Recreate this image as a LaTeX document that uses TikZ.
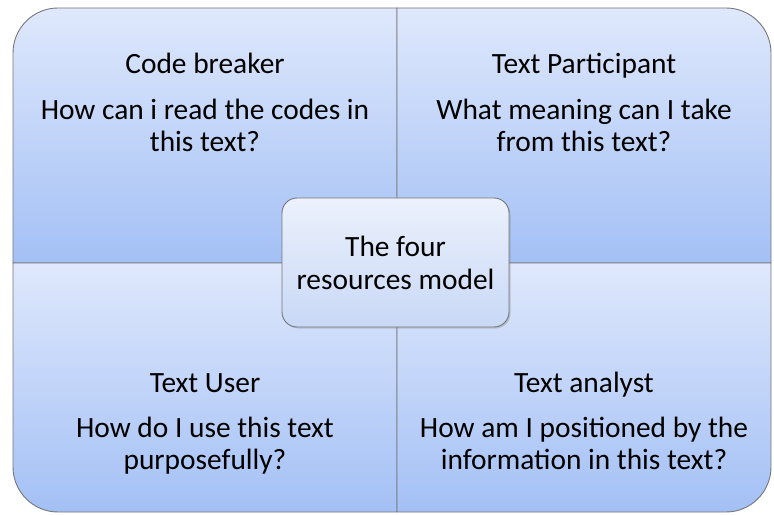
\documentclass[tikz,border=0pt]{standalone}
\usepackage{fontspec}
\setmainfont{Carlito}
\usetikzlibrary{positioning,shadows}
\definecolor{quadtop}{RGB}{223,232,252}
\definecolor{quadbot}{RGB}{163,192,245}
\definecolor{hubtop}{RGB}{236,241,252}
\definecolor{hubbot}{RGB}{200,216,246}
\definecolor{edgegray}{RGB}{118,118,118}
\tikzset{
  quad/.style={draw=edgegray, line width=0.9pt, top color=quadtop, bottom color=quadbot},
  head/.style={font=\fontsize{29.4}{32}\selectfont, inner sep=0pt},
  ask/.style={font=\fontsize{29.4}{32}\selectfont, align=center, inner sep=0pt},
  hub/.style={draw=edgegray, line width=0.9pt, rounded corners=15pt,
    top color=hubtop, bottom color=hubbot, minimum width=227pt, minimum height=129pt,
    align=center, font=\fontsize{29.4}{33}\selectfont,
    drop shadow={shadow xshift=1.5pt, shadow yshift=-1.5pt, opacity=0.35}}
}
\begin{document}
\begin{tikzpicture}[x=1pt,y=1pt]
  \useasboundingbox (0,0) rectangle (774,515);
  % the four quadrants
  \draw[quad] (397,252) -- (13,252) -- (13,462) arc[start angle=180, end angle=90, radius=45] -- (397,507) -- cycle;
  \draw[quad] (397,252) -- (397,507) -- (726,507) arc[start angle=90, end angle=0, radius=45] -- (771,252) -- cycle;
  \draw[quad] (397,252) -- (13,252) -- (13,48) arc[start angle=180, end angle=270, radius=45] -- (397,3) -- cycle;
  \draw[quad] (397,252) -- (771,252) -- (771,48) arc[start angle=0, end angle=-90, radius=45] -- (397,3) -- cycle;

  \node[head, anchor=base] (breaker) at (205,441) {Code breaker};
  \node[ask, below=24.5pt of breaker.base] (breakerq) {How can i read the codes in\\this text?};

  \node[head, anchor=base] (participant) at (584,441) {Text Participant};
  \node[ask, below=24.5pt of participant.base] (participantq) {What meaning can I take\\from this text?};

  \node[head, anchor=base] (user) at (205,123) {Text User};
  \node[ask, below=24.5pt of user.base] (userq) {How do I use this text\\purposefully?};

  \node[head, anchor=base] (analyst) at (584,123) {Text analyst};
  \node[ask, below=24.5pt of analyst.base] (analystq) {How am I positioned by the\\information in this text?};

  \node[hub] (model) at (395.5,252.5) {The four\\resources model};
\end{tikzpicture}
\end{document}
